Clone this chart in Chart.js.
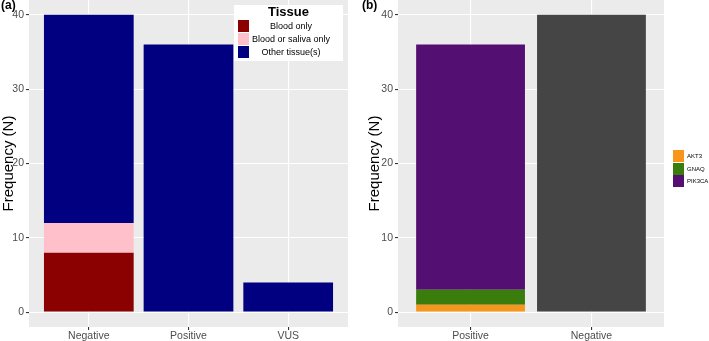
<!DOCTYPE html>
<html>
<head>
<meta charset="utf-8">
<script src="https://cdn.jsdelivr.net/npm/chart.js@4.4.1/dist/chart.umd.min.js"></script>
<style>
  html, body { margin: 0; padding: 0; background: #ffffff; width: 709px; height: 341px; overflow: hidden; font-family: "Liberation Sans", Arial, sans-serif; }
  .wrap { position: absolute; top: 0; }
  #wa { left: 0; width: 360px; height: 341px; }
  #wb { left: 360px; width: 349px; height: 341px; }
  .lab { position: absolute; font-weight: bold; font-size: 12px; line-height: 12px; color: #000; }
  .legA { position: absolute; left: 234px; top: 5px; width: 109px; height: 56px; background: #fff; }
  .legA .title { position: absolute; left: 0; width: 100%; top: 0px; text-align: center; font-weight: bold; font-size: 13px; line-height: 13px; }
  .legA .row { position: absolute; left: 4px; height: 13px; width: 101px; }
  .legA .sw { position: absolute; left: 0; top: 0; width: 11px; height: 12px; }
  .legA .tx { position: absolute; left: 14px; right: 9px; top: 0; text-align: center; font-size: 9px; line-height: 12px; color: #000; white-space: nowrap; }
  .legB .row { position: absolute; left: 673px; height: 12px; width: 40px; }
  .legB .sw { position: absolute; left: 0; top: 0; width: 11px; height: 12px; }
  .legB .tx { position: absolute; left: 14px; top: 0; font-size: 6px; line-height: 12px; color: #000; white-space: nowrap; }
</style>
</head>
<body>
<div class="wrap" id="wa"><canvas id="ca"></canvas></div>
<div class="wrap" id="wb"><canvas id="cb"></canvas></div>
<div class="lab" style="left:1px;top:-1px;">(a)</div>
<div class="lab" style="left:362px;top:-1px;">(b)</div>
<div class="legA" id="legA"><div class="title">Tissue</div></div>
<div class="legB" id="legB"></div>
<script>
// ---- Data (panel a) ----
const categoriesA = ['Negative', 'Positive', 'VUS'];
const bloodOnly = [8, 0, 0];
const bloodOrSaliva = [4, 0, 0];
const otherTissue = [28, 36, 4];
const tissueLabels = ['Blood only', 'Blood or saliva only', 'Other tissue(s)'];

// ---- Data (panel b) ----
const categoriesB = ['Positive', 'Negative'];
const akt3 = [1, 0];
const gnaq = [2, 0];
const pik3ca = [33, 0];
const negativeB = [0, 40];
const geneLabels = ['AKT3', 'GNAQ', 'PIK3CA'];

const yTicks = [0, 10, 20, 30, 40];

const colA = ['#8B0000', '#FFC0CB', '#000080'];
const colB = ['#F8951D', '#3A7D0C', '#530F71'];
const colNeg = '#454545';

const toXY = arr => arr.map((v, i) => ({ x: i + 1, y: v }));

const panelBg = {
  id: 'panelBg',
  beforeDraw(chart) {
    const { ctx, chartArea: a } = chart;
    ctx.save();
    ctx.fillStyle = '#EBEBEB';
    ctx.fillRect(a.left, a.top, a.right - a.left, a.bottom - a.top);
    ctx.restore();
  }
};

function makeChart(canvasId, cats, datasets, yWidth, padLeft, padRight) {
  return new Chart(document.getElementById(canvasId), {
    type: 'bar',
    data: { datasets },
    plugins: [panelBg],
    options: {
      responsive: true,
      maintainAspectRatio: false,
      animation: false,
      layout: { padding: { left: padLeft, right: padRight, top: 0, bottom: 0 } },
      plugins: { legend: { display: false }, tooltip: { enabled: false } },
      datasets: { bar: { categoryPercentage: 1, barPercentage: 0.9, borderWidth: 0 } },
      scales: {
        x: {
          type: 'linear',
          stacked: true,
          offset: false,
          min: 0.4,
          max: cats.length + 0.6,
          afterBuildTicks: s => { s.ticks = cats.map((c, i) => ({ value: i + 1 })); },
          afterFit: s => { s.height = 14; s.paddingLeft = 0; s.paddingRight = 0; },
          ticks: {
            callback: v => cats[Math.round(v) - 1],
            color: '#4D4D4D',
            font: { family: 'Liberation Sans', size: 10.5 },
            padding: 0,
            maxRotation: 0,
            autoSkip: false
          },
          grid: { offset: false, color: '#FFFFFF', lineWidth: 1.1, tickColor: '#333333', tickLength: 3, drawTicks: true },
          border: { display: false }
        },
        y: {
          type: 'linear',
          stacked: true,
          min: -2,
          max: 42,
          afterBuildTicks: s => { s.ticks = yTicks.map(v => ({ value: v })); },
          afterFit: s => { s.width = yWidth; s.paddingTop = 0; s.paddingBottom = 0; },
          ticks: {
            color: '#4D4D4D',
            font: { family: 'Liberation Sans', size: 10.5 },
            padding: 2
          },
          grid: { color: '#FFFFFF', lineWidth: 1.1, tickColor: '#333333', tickLength: 3, drawTicks: true },
          border: { display: false },
          title: {
            display: true,
            text: 'Frequency (N)',
            color: '#000000',
            font: { family: 'Liberation Sans', size: 15 },
            padding: 0
          }
        }
      }
    }
  });
}

makeChart('ca', categoriesA, [
  { label: tissueLabels[0], data: toXY(bloodOnly), backgroundColor: colA[0] },
  { label: tissueLabels[1], data: toXY(bloodOrSaliva), backgroundColor: colA[1] },
  { label: tissueLabels[2], data: toXY(otherTissue), backgroundColor: colA[2] }
], 29, 0, 12);

makeChart('cb', categoriesB, [
  { label: geneLabels[0], data: toXY(akt3), backgroundColor: colB[0] },
  { label: geneLabels[1], data: toXY(gnaq), backgroundColor: colB[1] },
  { label: geneLabels[2], data: toXY(pik3ca), backgroundColor: colB[2] },
  { label: 'Negative', data: toXY(negativeB), backgroundColor: colNeg }
], 32, 6, 45);

// legends
const legA = document.getElementById('legA');
tissueLabels.forEach((t, i) => {
  const r = document.createElement('div');
  r.className = 'row';
  r.style.top = (15 + i * 13) + 'px';
  r.innerHTML = '<div class="sw" style="background:' + colA[i] + '"></div><div class="tx">' + t + '</div>';
  legA.appendChild(r);
});
const legB = document.getElementById('legB');
geneLabels.forEach((t, i) => {
  const r = document.createElement('div');
  r.className = 'row';
  r.style.top = (150 + i * 12.5) + 'px';
  r.innerHTML = '<div class="sw" style="background:' + colB[i] + '"></div><div class="tx">' + t + '</div>';
  legB.appendChild(r);
});
</script>
</body>
</html>
